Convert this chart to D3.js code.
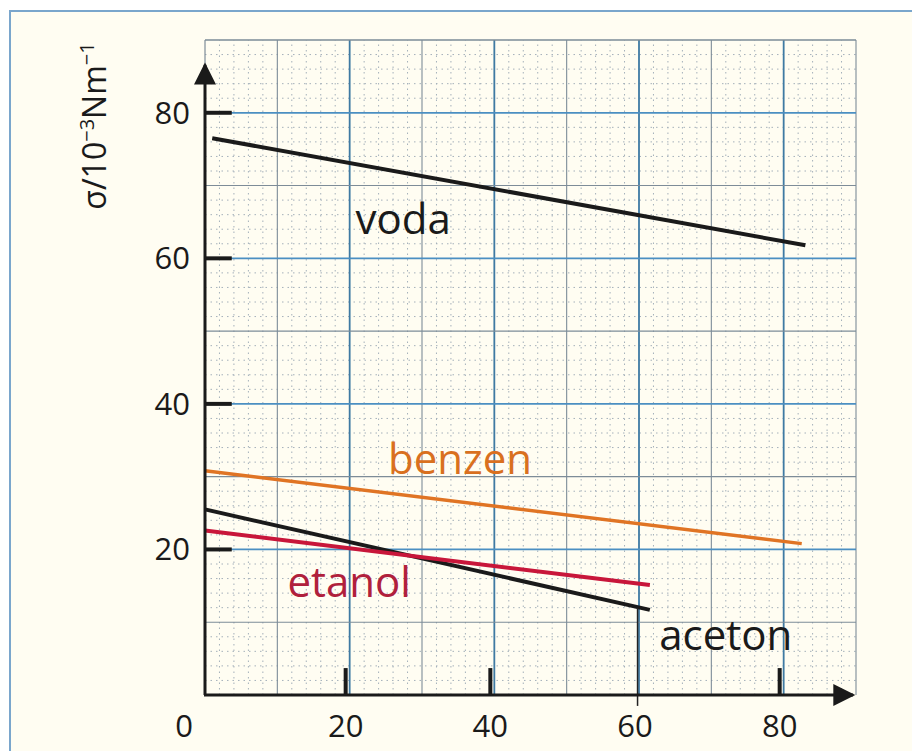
<!DOCTYPE html>
<html>
<head>
<meta charset="utf-8">
<script src="https://cdn.jsdelivr.net/npm/d3@7"></script>
<style>
body { margin: 0; background: #fff; }
svg text { font-family: "Open Sans", "DejaVu Sans", sans-serif; }
</style>
</head>
<body>
<svg width="912" height="751"></svg>
<script>
// surface tension of liquids vs temperature
var xTicks = [0, 20, 40, 60, 80];
var yTicks = [20, 40, 60, 80];
var names = ["voda", "benzen", "aceton", "etanol"];
var colors = ["#1a1a1a", "#e07424", "#1a1a1a", "#c8163a"];
var voda = [[1, 76.5], [83, 61.8]];
var benzen = [[0, 30.8], [82.5, 20.8]];
var aceton = [[0, 25.5], [61.5, 11.7]];
var etanol = [[0, 22.6], [61.5, 15.1]];

var svg = d3.select("svg");

var x = d3.scaleLinear().domain([0, 90]).range([205, 856]);
var y = d3.scaleLinear().domain([0, 90]).range([695, 40]);

// page frame
svg.append("rect").attr("x", 10).attr("y", 11).attr("width", 920).attr("height", 760)
	.attr("fill", "#fffdf2").attr("stroke", "#7aa6cc").attr("stroke-width", 2);

var g = svg.append("g");

// fine dotted grid every 2 units
var minor = d3.range(2, 90, 2).filter(function(d) { return d % 10 != 0; });
g.selectAll(".mv").data(minor).enter().append("line")
	.attr("x1", function(d) { return x(d); }).attr("x2", function(d) { return x(d); })
	.attr("y1", y(0)).attr("y2", y(90))
	.attr("stroke", "#a4b0ba").attr("stroke-width", 1).attr("stroke-dasharray", "1.5,4");
g.selectAll(".mh").data(minor).enter().append("line")
	.attr("y1", function(d) { return y(d); }).attr("y2", function(d) { return y(d); })
	.attr("x1", x(0)).attr("x2", x(90))
	.attr("stroke", "#a4b0ba").attr("stroke-width", 1).attr("stroke-dasharray", "1.5,4");

// main grid every 10 units
var major = d3.range(10, 100, 10);
g.selectAll(".gv").data(major).enter().append("line")
	.attr("x1", function(d) { return x(d); }).attr("x2", function(d) { return x(d); })
	.attr("y1", y(0)).attr("y2", y(90))
	.attr("stroke", function(d) { return d % 20 == 0 ? "#3f7aa3" : "#7d8c98"; })
	.attr("stroke-width", function(d) { return d % 20 == 0 ? 1.8 : 1.1; });
g.selectAll(".gh").data(major).enter().append("line")
	.attr("y1", function(d) { return y(d); }).attr("y2", function(d) { return y(d); })
	.attr("x1", x(0)).attr("x2", x(90))
	.attr("stroke", function(d) { return d % 20 == 0 ? "#4b8fc2" : "#7d8c98"; })
	.attr("stroke-width", function(d) { return d % 20 == 0 ? 1.8 : 1.1; });
// top and left edges of the grid
g.append("line").attr("x1", x(0)).attr("x2", x(90)).attr("y1", y(90)).attr("y2", y(90))
	.attr("stroke", "#7d8c98").attr("stroke-width", 1.2);
g.append("line").attr("x1", x(0)).attr("x2", x(0)).attr("y1", y(90)).attr("y2", y(0))
	.attr("stroke", "#7d8c98").attr("stroke-width", 1.2);

// series lines
var series = [voda, benzen, aceton, etanol];
var line = d3.line().x(function(d) { return x(d[0]); }).y(function(d) { return y(d[1]); });
g.selectAll(".series").data(series).enter().append("path")
	.attr("d", line)
	.attr("fill", "none")
	.attr("stroke", function(d, i) { return colors[i]; })
	.attr("stroke-width", function(d, i) { return i == 1 ? 3.5 : 4; });

// thin drop line at the end of aceton
g.append("line").attr("x1", x(59.8)).attr("x2", x(59.8)).attr("y1", y(12)).attr("y2", y(-1.5))
	.attr("stroke", "#222").attr("stroke-width", 1.5);

// axes with arrows
svg.append("defs").append("marker").attr("id", "arr")
	.attr("viewBox", "0 0 10 10").attr("refX", 9).attr("refY", 5)
	.attr("markerWidth", 26).attr("markerHeight", 22).attr("markerUnits", "userSpaceOnUse")
	.attr("orient", "auto")
	.append("path").attr("d", "M0,0L10,5L0,10Z").attr("fill", "#1a1a1a");

svg.append("line").attr("x1", x(0)).attr("y1", y(0)).attr("x2", x(0)).attr("y2", y(86.6))
	.attr("stroke", "#1a1a1a").attr("stroke-width", 3).attr("marker-end", "url(#arr)");
svg.append("line").attr("x1", x(0) - 1).attr("y1", y(0)).attr("x2", x(89.6)).attr("y2", y(0))
	.attr("stroke", "#1a1a1a").attr("stroke-width", 3).attr("marker-end", "url(#arr)");

// heavy tick marks
svg.selectAll(".yt").data(yTicks).enter().append("line")
	.attr("x1", x(0)).attr("x2", x(3.7))
	.attr("y1", function(d) { return y(d); }).attr("y2", function(d) { return y(d); })
	.attr("stroke", "#1a1a1a").attr("stroke-width", 4);
svg.selectAll(".xt").data(xTicks.filter(function(d) { return d > 0 && d != 60; })).enter().append("line")
	.attr("x1", function(d) { return x(d) - 4; }).attr("x2", function(d) { return x(d) - 4; })
	.attr("y1", y(0)).attr("y2", y(3.7))
	.attr("stroke", "#1a1a1a").attr("stroke-width", 4);

// tick labels
svg.selectAll(".xl").data(xTicks).enter().append("text")
	.attr("x", function(d) { return d == 0 ? 184 : x(d) - 4; })
	.attr("y", 737)
	.attr("text-anchor", "middle")
	.attr("font-size", 31)
	.attr("fill", "#1a1a1a")
	.text(function(d) { return d; });
svg.selectAll(".yl").data(yTicks).enter().append("text")
	.attr("x", 190)
	.attr("y", function(d) { return y(d) + 11; })
	.attr("text-anchor", "end")
	.attr("font-size", 31)
	.attr("fill", "#1a1a1a")
	.text(function(d) { return d; });

// axis title
var title = svg.append("text")
	.attr("transform", "translate(106,126) rotate(-90)")
	.attr("text-anchor", "middle")
	.attr("font-size", 32)
	.attr("fill", "#1a1a1a");
title.append("tspan").text("σ/10");
title.append("tspan").attr("dy", -12).attr("font-size", 20).text("−3");
title.append("tspan").attr("dy", 12).text("Nm");
title.append("tspan").attr("dy", -12).attr("font-size", 20).text("−1");

// series labels
var labelPos = [[20.8, 63.4], [25.3, 30.3], [62.8, 6.2], [11.4, 13.4]];
var labelColors = ["#1a1a1a", "#d9701f", "#1a1a1a", "#b0203c"];
svg.selectAll(".lab").data(names).enter().append("text")
	.attr("x", function(d, i) { return x(labelPos[i][0]); })
	.attr("y", function(d, i) { return y(labelPos[i][1]); })
	.attr("font-size", 42)
	.attr("fill", function(d, i) { return labelColors[i]; })
	.text(function(d) { return d; });
</script>
</body>
</html>
